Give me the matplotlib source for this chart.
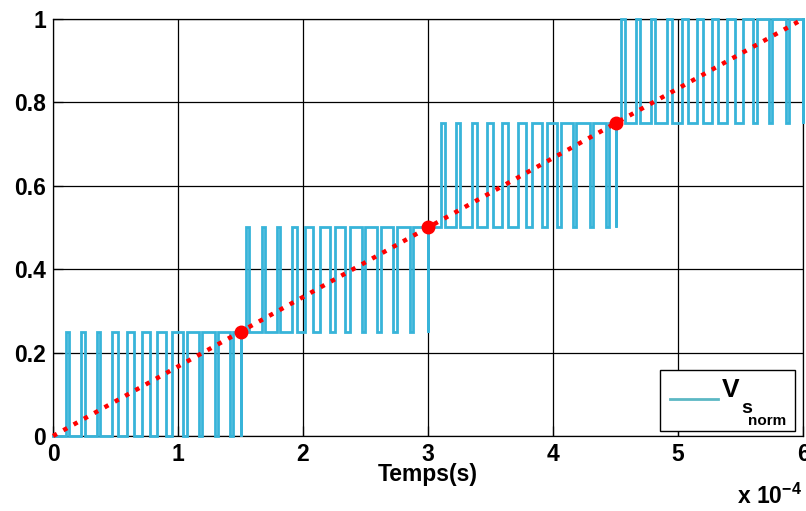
import matplotlib
matplotlib.use("Agg")
import matplotlib.pyplot as plt
from matplotlib.patches import Rectangle
from matplotlib.lines import Line2D

plt.rcParams['font.family'] = ['Liberation Sans', 'DejaVu Sans']
plt.rcParams['mathtext.fontset'] = 'custom'
plt.rcParams['mathtext.rm'] = 'Liberation Sans'
plt.rcParams['mathtext.bf'] = 'Liberation Sans:bold'

# time unit: 1e-4 s
seg_bounds = [0.0, 1.5, 3.0, 4.5, 6.0]
seg_base = [0.0, 0.25, 0.5, 0.75]
step_height = 0.25

# (rise, fall) times of high pulses in each segment
seg1_pulses = [(0.104, 0.124), (0.224, 0.252), (0.348, 0.376), (0.472, 0.520),
               (0.592, 0.648), (0.712, 0.776), (0.832, 0.904), (0.952, 1.040),
               (1.072, 1.168), (1.192, 1.296), (1.320, 1.416), (1.440, 1.500)]
seg2_pulses = [(1.544, 1.564), (1.672, 1.692), (1.792, 1.812), (1.912, 1.952),
               (2.016, 2.080), (2.136, 2.216), (2.256, 2.336), (2.376, 2.472),
               (2.496, 2.592), (2.624, 2.720), (2.752, 2.856), (2.880, 3.000)]
seg3_pulses = [(3.104, 3.136), (3.224, 3.256), (3.352, 3.392), (3.472, 3.520),
               (3.592, 3.640), (3.720, 3.784), (3.832, 3.912), (3.952, 4.032),
               (4.064, 4.160), (4.184, 4.296), (4.320, 4.424), (4.448, 4.500)]
seg4_pulses = [(4.544, 4.576), (4.664, 4.696), (4.784, 4.816), (4.912, 4.952),
               (5.032, 5.080), (5.152, 5.200), (5.272, 5.320), (5.392, 5.456),
               (5.520, 5.600), (5.632, 5.728), (5.752, 5.864), (5.888, 6.000)]
all_pulses = [seg1_pulses, seg2_pulses, seg3_pulses, seg4_pulses]

ref_t = [0.0, 1.5, 3.0, 4.5, 6.0]
ref_v = [0.0, 0.25, 0.5, 0.75, 1.0]
marker_t = [1.5, 3.0, 4.5]
marker_v = [0.25, 0.5, 0.75]

legend_main = 'V'
legend_sub = 's'
legend_subsub = 'norm'

# build the PWM step signal
ts, vs = [], []
for s, pulses in enumerate(all_pulses):
    base = seg_base[s]
    ts.append(seg_bounds[s]); vs.append(base)
    for r, f in pulses:
        ts += [r, r, f, f]
        vs += [base, base + step_height, base + step_height, base]
    ts.append(seg_bounds[s + 1])
    vs.append(vs[-1] if pulses[-1][1] < seg_bounds[s + 1] else base + step_height)

fig = plt.figure(figsize=(8.06, 5.11), dpi=100)
ax = fig.add_axes([0.0658, 0.1468, 0.9305, 0.816])

sig_color = '#38b4d9'
ax.plot(ts, vs, color=sig_color, lw=2.0, solid_joinstyle='miter', zorder=3, clip_on=False)
ax.plot(ref_t, ref_v, color='red', lw=3.2, ls=':', zorder=4, clip_on=False)
ax.plot(marker_t, marker_v, 'o', color='red', ms=9, zorder=5)

ax.set_xlim(0, 6)
ax.set_ylim(0, 1)
ax.set_xticks([0, 1, 2, 3, 4, 5, 6])
ax.set_yticks([0, 0.2, 0.4, 0.6, 0.8, 1])
ax.set_yticklabels(['0', '0.2', '0.4', '0.6', '0.8', '1'])
ax.grid(True, color='black', lw=0.9)
ax.set_axisbelow(True)
ax.tick_params(direction='in', length=7, width=0.9, labelsize=16.5, pad=5)
for lab in ax.get_xticklabels() + ax.get_yticklabels():
    lab.set_fontweight('bold')
for sp in ax.spines.values():
    sp.set_linewidth(0.9)
ax.set_xlabel('Temps(s)', fontsize=16.5, fontweight='bold', labelpad=-2)

fig.text(0.915, 0.005, r'x 10$^{\mathbf{-4}}$', fontsize=16.5, fontweight='bold',
         ha='left', va='bottom')

# legend box (MATLAB-style, with nested subscript)
tr = ax.transAxes
ax.add_patch(Rectangle((0.809, 0.012), 0.180, 0.146, transform=tr, facecolor='white',
                       edgecolor='black', lw=1.0, zorder=10, clip_on=False))
ax.add_line(Line2D([0.823, 0.887], [0.0887, 0.0887], transform=tr, color='#5cb8c4',
                   lw=2.0, zorder=11))
ax.text(0.892, 0.110, legend_main, transform=tr, fontsize=19, fontweight='bold',
        ha='left', va='center', zorder=11)
ax.text(0.918, 0.067, legend_sub, transform=tr, fontsize=14, fontweight='bold',
        ha='left', va='center', zorder=11)
ax.text(0.926, 0.036, legend_subsub, transform=tr, fontsize=11, fontweight='bold',
        ha='left', va='center', zorder=11)

fig.savefig('out.png', dpi=100, facecolor='white')
